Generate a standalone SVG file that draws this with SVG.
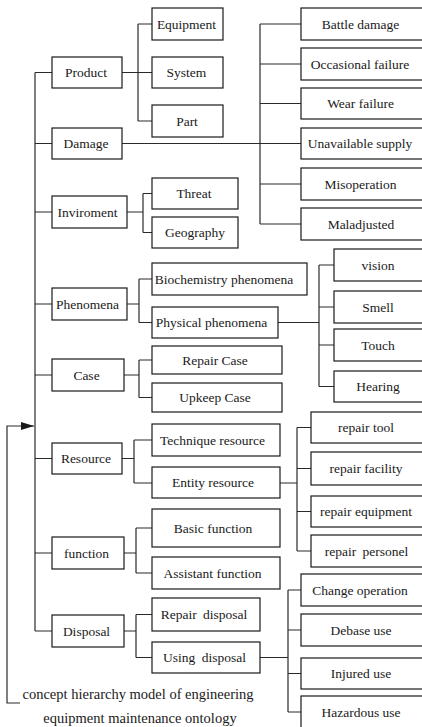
<svg xmlns="http://www.w3.org/2000/svg" width="422" height="727" viewBox="0 0 422 727">
<defs>
<style>
rect{fill:#fff;stroke:#1a1a1a;stroke-width:1.2}
text{font-family:"Liberation Serif","Times New Roman","DejaVu Serif",serif;font-size:13.5px;fill:#1a1a1a;text-anchor:middle}
#caption text{font-size:14.5px}
#connectors path{fill:none;stroke:#2a2a2a;stroke-width:1.2}
</style>
<marker id="arr" markerWidth="14" markerHeight="10" refX="13" refY="5" orient="auto" markerUnits="userSpaceOnUse">
<path d="M0,1 L13,5 L0,9 Z" fill="#1a1a1a"/>
</marker>
</defs>
<rect x="0" y="0" width="422" height="727" style="fill:#fff;stroke:none"/>
<g id="connectors">
<path d="M35,72.5 V631 M35,72.5 H52 M35,143.5 H52 M35,212 H52 M35,304 H52 M35,375 H52 M35,458.5 H52 M35,553 H52 M35,631 H52"/>
<path d="M122,72.5 H138 M138,24 V121 M138,24 H152 M138,72.5 H152 M138,121 H152"/>
<path d="M122,143.5 H301 M260,24 V224 M260,24 H301 M260,64 H301 M260,103.5 H301 M260,184 H301 M260,224 H301"/>
<path d="M127,212 H143 M143,193.5 V232.5 M143,193.5 H152 M143,232.5 H152"/>
<path d="M127,304 H139 M139,279 V322.5 M139,279 H152 M139,322.5 H152"/>
<path d="M278,322.5 H319 M319,265 V386.5 M319,265 H334 M319,307 H334 M319,345 H334 M319,386.5 H334"/>
<path d="M124,375 H139 M139,360 V397.5 M139,360 H152 M139,397.5 H152"/>
<path d="M122,458.5 H134 M134,440 V483 M134,440 H152 M134,483 H152"/>
<path d="M280,483 H297 M297,427.5 V551 M297,427.5 H311 M297,468.5 H311 M297,511.5 H311 M297,551 H311"/>
<path d="M124,553 H136 M136,528 V573 M136,528 H152 M136,573 H152"/>
<path d="M124,631 H136 M136,614.5 V657.5 M136,614.5 H152 M136,657.5 H152"/>
<path d="M260,657.5 H288 M288,590 V712 M288,590 H301 M288,630 H301 M288,673.5 H301 M288,712 H301"/>
<path d="M20,703 H7 V426 H34" marker-end="url(#arr)"/>
</g>
<g id="n-product"><rect x="52" y="57" width="70" height="31"/><text x="86" y="77">Product</text></g>
<g id="n-damage"><rect x="52" y="128" width="70" height="31"/><text x="86" y="148">Damage</text></g>
<g id="n-inviroment"><rect x="52" y="196" width="75" height="32"/><text x="87.5" y="216.5">Inviroment</text></g>
<g id="n-phenomena"><rect x="52" y="288" width="75" height="32"/><text x="87.5" y="308.5">Phenomena</text></g>
<g id="n-case"><rect x="52" y="359" width="72" height="32"/><text x="86.5" y="379.5">Case</text></g>
<g id="n-resource"><rect x="52" y="443" width="70" height="31"/><text x="86" y="463">Resource</text></g>
<g id="n-function"><rect x="52" y="537" width="72" height="32"/><text x="86.5" y="557.5">function</text></g>
<g id="n-disposal"><rect x="52" y="615" width="72" height="32"/><text x="86.5" y="635.5">Disposal</text></g>
<g id="n-equipment"><rect x="152" y="8" width="71" height="32"/><text x="186.5" y="28.5">Equipment</text></g>
<g id="n-system"><rect x="152" y="57" width="71" height="31"/><text x="186.5" y="77">System</text></g>
<g id="n-part"><rect x="152" y="105" width="71" height="32"/><text x="187" y="125.5">Part</text></g>
<g id="n-threat"><rect x="152" y="178" width="86" height="31"/><text x="194" y="198">Threat</text></g>
<g id="n-geography"><rect x="152" y="217" width="86" height="31"/><text x="195" y="237">Geography</text></g>
<g id="n-biochem"><rect x="152" y="263" width="155" height="32"/><text x="224" y="283.5">Biochemistry phenomena</text></g>
<g id="n-physical"><rect x="152" y="307" width="126" height="31"/><text x="211.5" y="327">Physical phenomena</text></g>
<g id="n-repaircase"><rect x="152" y="346" width="130" height="28"/><text x="215" y="364.5">Repair Case</text></g>
<g id="n-upkeepcase"><rect x="152" y="383" width="130" height="29"/><text x="215" y="402">Upkeep Case</text></g>
<g id="n-technique"><rect x="152" y="424" width="128" height="32"/><text x="212.5" y="444.5">Technique resource</text></g>
<g id="n-entity"><rect x="152" y="467" width="128" height="31"/><text x="213" y="487">Entity resource</text></g>
<g id="n-basic"><rect x="152" y="509" width="128" height="38"/><text x="213" y="532.5">Basic function</text></g>
<g id="n-assistant"><rect x="152" y="557" width="128" height="32"/><text x="212.5" y="577.5">Assistant function</text></g>
<g id="n-repairdisposal"><rect x="152" y="598" width="108" height="33"/><text x="204" y="619" word-spacing="3">Repair disposal</text></g>
<g id="n-usingdisposal"><rect x="152" y="642" width="108" height="31"/><text x="204.5" y="662" word-spacing="3">Using disposal</text></g>
<g id="n-battle"><rect x="301" y="8" width="130" height="32"/><text x="360.5" y="28.5">Battle damage</text></g>
<g id="n-occasional"><rect x="301" y="48" width="130" height="32"/><text x="360" y="68.5">Occasional failure</text></g>
<g id="n-wear"><rect x="301" y="88" width="130" height="31"/><text x="360.5" y="108">Wear failure</text></g>
<g id="n-unavailable"><rect x="301" y="128" width="130" height="31"/><text x="360" y="148">Unavailable supply</text></g>
<g id="n-misoperation"><rect x="301" y="168" width="130" height="32"/><text x="360.5" y="188.5">Misoperation</text></g>
<g id="n-maladjusted"><rect x="301" y="208" width="130" height="32"/><text x="361" y="228.5">Maladjusted</text></g>
<g id="n-vision"><rect x="334" y="249" width="100" height="32"/><text x="378" y="269.5">vision</text></g>
<g id="n-smell"><rect x="334" y="291" width="100" height="32"/><text x="378" y="311.5">Smell</text></g>
<g id="n-touch"><rect x="334" y="329" width="100" height="32"/><text x="378" y="349.5">Touch</text></g>
<g id="n-hearing"><rect x="334" y="371" width="100" height="31"/><text x="378" y="391">Hearing</text></g>
<g id="n-tool"><rect x="311" y="412" width="120" height="31"/><text x="366" y="432">repair tool</text></g>
<g id="n-facility"><rect x="311" y="452" width="120" height="33"/><text x="366" y="473">repair facility</text></g>
<g id="n-reqequip"><rect x="311" y="496" width="120" height="31"/><text x="366" y="516">repair equipment</text></g>
<g id="n-personel"><rect x="311" y="535" width="120" height="32"/><text x="366.5" y="555.5" word-spacing="3">repair personel</text></g>
<g id="n-change"><rect x="301" y="574" width="130" height="32"/><text x="360" y="594.5">Change operation</text></g>
<g id="n-debase"><rect x="301" y="614" width="130" height="32"/><text x="361" y="634.5">Debase use</text></g>
<g id="n-injured"><rect x="301" y="658" width="130" height="31"/><text x="361" y="678">Injured use</text></g>
<g id="n-hazardous"><rect x="301" y="696" width="130" height="45"/><text x="361" y="716.5">Hazardous use</text></g>
<g id="caption"><text x="138" y="699">concept hierarchy model of engineering</text><text x="140" y="723">equipment maintenance ontology</text></g>
</svg>
